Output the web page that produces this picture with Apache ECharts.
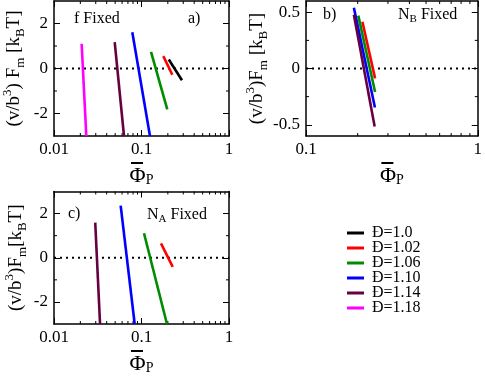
<!DOCTYPE html>
<html>
<head>
<meta charset="utf-8">
<script src="https://cdn.jsdelivr.net/npm/echarts@6/dist/echarts.min.js"></script>
<style>
  html, body { margin: 0; padding: 0; background: #fff; }
  #chart { width: 485px; height: 376px; }
</style>
</head>
<body>
<div id="chart"></div>
<script>
const FONT = '"Liberation Serif", serif'

// dispersity labels and colours
const names = ['Đ=1.0', 'Đ=1.02', 'Đ=1.06', 'Đ=1.10', 'Đ=1.14', 'Đ=1.18']
const colors = ['#000000', '#ff0000', '#008c00', '#0000ff', '#660040', '#ff00ff']

// panel a) f fixed : end points of each curve
const phiA = [[0.205, 0.290], [0.1775, 0.225], [0.1285, 0.197], [0.0785, 0.125], [0.0494, 0.0631], [0.0207, 0.0234]]
const fA = [[0.40, -0.52], [0.55, -0.28], [0.74, -1.82], [1.61, -3.0], [1.17, -3.0], [1.10, -3.0]]
// panel b) N_B fixed
const phiB = [null, [0.213, 0.2525], [0.2016, 0.2525], [0.190, 0.252], [0.190, 0.251], null]
const fB = [null, [0.415, -0.088], [0.47, -0.209], [0.54, -0.347], [0.477, -0.515], null]
// panel c) N_A fixed
const phiC = [null, [0.167, 0.2274], [0.1068, 0.1954], [0.0578, 0.0836], [0.0296, 0.0336], null]
const fC = [null, [0.65, -0.41], [1.11, -3.0], [2.36, -3.0], [1.59, -3.0], null]

// ticks
const xMajorAC = [0.01, 0.1, 1]
const xMinorAC = [0.02, 0.03, 0.04, 0.05, 0.06, 0.07, 0.08, 0.09, 0.2, 0.3, 0.4, 0.5, 0.6, 0.7, 0.8, 0.9]
const xMajorB = [0.1, 1]
const xMinorB = [0.2, 0.3, 0.4, 0.5, 0.6, 0.7, 0.8, 0.9]
const yMajorAC = [-2, 0, 2]
const yMinorAC = [-1, 1]
const yMajorB = [-0.5, 0, 0.5]
const yMinorB = [-0.25, 0.25]

const xRangeAC = [0.01, 1]
const xRangeB = [0.1, 1]
const yRangeAC = [-3, 3]
const yRangeB = [-0.6, 0.6]

const subRich = {
  sup: { fontSize: 13, lineHeight: 13, verticalAlign: 'top', fontFamily: FONT, color: '#000' },
  sub: { fontSize: 13, lineHeight: 13, verticalAlign: 'bottom', fontFamily: FONT, color: '#000' }
}

const xNameStyle = {
  fontFamily: FONT,
  color: '#000',
  rich: {
    bar: { width: 12, height: 2, backgroundColor: '#000', lineHeight: 4, fontSize: 2 },
    gap: { width: 9, height: 2, lineHeight: 4, fontSize: 2 },
    phi: { fontSize: 22, lineHeight: 22, fontFamily: FONT, color: '#000' },
    sub: { fontSize: 14, lineHeight: 12, verticalAlign: 'bottom', fontFamily: FONT, color: '#000' }
  }
}
const xName = '{bar| }{gap| }\n{phi|Φ}{sub|P}'

function axes (g, xr, yr, xMajor, yMajor, yTitle, yGap) {
  let line = { onZero: false, lineStyle: { color: '#000', width: 1.5 } }
  let tick = (vals) => ({ inside: true, length: 6, customValues: vals, lineStyle: { color: '#000', width: 1 } })
  let label = { color: '#000', fontFamily: FONT, fontSize: 17 }
  let xs = [{
    gridIndex: g, type: 'log', min: xr[0], max: xr[1], position: 'bottom',
    axisLine: line, axisTick: tick(xMajor), splitLine: { show: false },
    axisLabel: Object.assign({}, label, { margin: 5, customValues: xMajor, formatter: v => String(+(+v).toPrecision(3)) }),
    name: xName, nameLocation: 'middle', nameGap: 25, nameMoveOverlap: false, nameTextStyle: xNameStyle
  }, {
    gridIndex: g, type: 'log', min: xr[0], max: xr[1], position: 'top',
    axisLine: line, axisTick: tick(xMajor), splitLine: { show: false }, axisLabel: { show: false }
  }]
  let ys = [{
    gridIndex: g, type: 'value', min: yr[0], max: yr[1], position: 'left',
    axisLine: line, axisTick: tick(yMajor), splitLine: { show: false },
    axisLabel: Object.assign({}, label, { margin: 6, customValues: yMajor, formatter: v => String(v) }),
    name: yTitle, nameLocation: 'middle', nameRotate: 90, nameGap: yGap, nameMoveOverlap: false,
    nameTextStyle: { fontFamily: FONT, fontSize: 19, lineHeight: 26, color: '#000', rich: subRich }
  }, {
    gridIndex: g, type: 'value', min: yr[0], max: yr[1], position: 'right',
    axisLine: line, axisTick: tick(yMajor), splitLine: { show: false }, axisLabel: { show: false }
  }]
  return { xs, ys }
}

function minorTicks (g, xr, yr, xMinor, yMinor) {
  let data = xMinor.map(v => [v, yr[0], 0]).concat(yMinor.map(v => [xr[0], v, 1]))
  let seg = (a, b) => ({ type: 'line', shape: { x1: a[0], y1: a[1], x2: b[0], y2: b[1] }, style: { stroke: '#000', lineWidth: 1 } })
  return {
    type: 'custom', xAxisIndex: 2 * g, yAxisIndex: 2 * g, data: data, silent: true, clip: false,
    encode: { x: 0, y: 1 },
    renderItem: (params, api) => {
      if (api.value(2) === 0) {
        let v = api.value(0)
        let b = api.coord([v, yr[0]])
        let t = api.coord([v, yr[1]])
        return { type: 'group', children: [seg(b, [b[0], b[1] - 3]), seg(t, [t[0], t[1] + 3])] }
      }
      let v = api.value(1)
      let l = api.coord([xr[0], v])
      let r = api.coord([xr[1], v])
      return { type: 'group', children: [seg(l, [l[0] + 3, l[1]]), seg(r, [r[0] - 3, r[1]])] }
    }
  }
}

function curves (g, phi, f) {
  let out = []
  phi.forEach((p, i) => {
    if (!p) return
    out.push({
      name: names[i], type: 'line', xAxisIndex: 2 * g, yAxisIndex: 2 * g,
      data: [[p[0], f[i][0]], [p[1], f[i][1]]],
      color: colors[i], symbol: 'none', clip: true,
      lineStyle: { color: colors[i], width: 2.6 }
    })
  })
  return out
}

function zeroLine (g, xr) {
  return {
    type: 'line', xAxisIndex: 2 * g, yAxisIndex: 2 * g, silent: true, symbol: 'none',
    data: [[xr[0], 0], [xr[1], 0]],
    lineStyle: { color: '#000', width: 2, type: [2, 4] }
  }
}

const A = axes(0, xRangeAC, yRangeAC, xMajorAC, yMajorAC, '(v/b{sup|3}) F{sub|m} [k{sub|B}T]', 27)
const B = axes(1, xRangeB, yRangeB, xMajorB, yMajorB, '(v/b{sup|3})F{sub|m} [k{sub|B}T]', 36)
const C = axes(2, xRangeAC, yRangeAC, xMajorAC, yMajorAC, '(v/b{sup|3})F{sub|m}[k{sub|B}T]', 25)

const labelStyle = (text, x, y) => ({
  type: 'text', x: x, y: y, silent: true,
  style: {
    text: text, fill: '#000', fontFamily: FONT, fontSize: 16, verticalAlign: 'middle', lineHeight: 20,
    rich: {
      n: { fontSize: 16, lineHeight: 20, fontFamily: FONT, color: '#000' },
      s: { fontSize: 11, lineHeight: 9, verticalAlign: 'bottom', fontFamily: FONT, color: '#000' }
    }
  }
})

const myChart = echarts.init(document.getElementById('chart'))
myChart.setOption({
  animation: false,
  backgroundColor: '#fff',
  textStyle: { fontFamily: FONT },
  grid: [
    { left: 54, top: 1, width: 175, height: 135 },
    { left: 306, top: 1, width: 173, height: 135 },
    { left: 54, top: 191.5, width: 175, height: 135 }
  ],
  xAxis: A.xs.concat(B.xs, C.xs),
  yAxis: A.ys.concat(B.ys, C.ys),
  legend: {
    data: names, orient: 'vertical', left: 347, top: 225, padding: 0,
    icon: 'rect', itemWidth: 17, itemHeight: 3, itemGap: -1, selectedMode: false,
    textStyle: { fontFamily: FONT, fontSize: 16, color: '#000', lineHeight: 15, height: 15, padding: [0, 0, 0, 3] }
  },
  graphic: [
    labelStyle('f Fixed', 74, 19),
    labelStyle('a)', 188, 19),
    labelStyle('b)', 323, 15),
    labelStyle('{n|N}{s|B} Fixed', 398, 15),
    labelStyle('c)', 68, 214),
    labelStyle('{n|N}{s|A} Fixed', 147, 215)
  ],
  series: [
    zeroLine(0, xRangeAC), zeroLine(1, xRangeB), zeroLine(2, xRangeAC),
    minorTicks(0, xRangeAC, yRangeAC, xMinorAC, yMinorAC),
    minorTicks(1, xRangeB, yRangeB, xMinorB, yMinorB),
    minorTicks(2, xRangeAC, yRangeAC, xMinorAC, yMinorAC)
  ].concat(curves(0, phiA, fA), curves(1, phiB, fB), curves(2, phiC, fC))
})
</script>
</body>
</html>
